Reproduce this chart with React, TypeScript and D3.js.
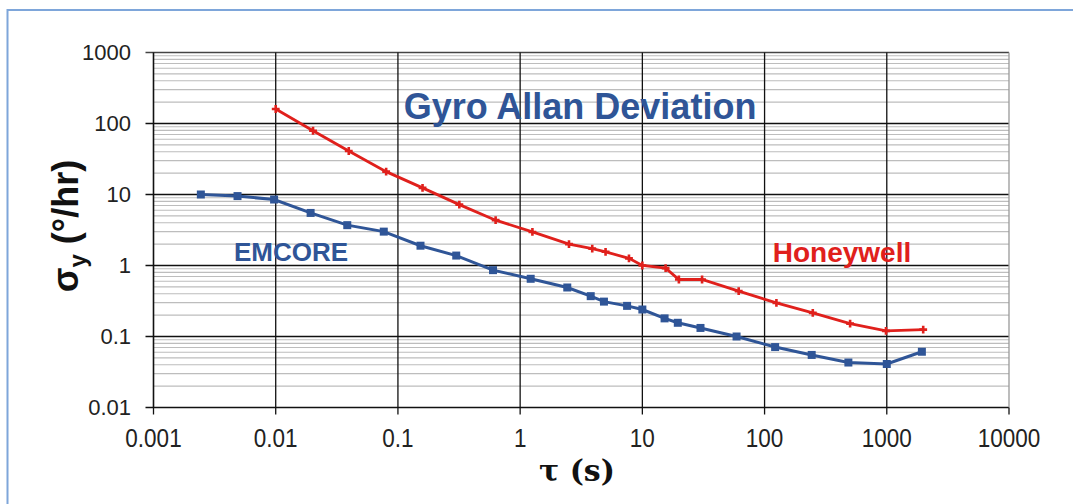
import * as d3 from "d3";

const WIDTH = 1073;
const HEIGHT = 504;

// EMCORE series (tau in s, sigma in deg/hr)
const emcoreTau = [
  0.00244, 0.00487, 0.0097, 0.0193, 0.0385, 0.0766, 0.153, 0.3, 0.6, 1.22, 2.43, 3.78, 4.85, 7.5,
  10, 15.2, 19.5, 29.9, 59, 122, 243, 485, 1000, 1937,
];
const emcoreSigma = [
  10, 9.5, 8.5, 5.5, 3.7, 3.0, 1.9, 1.38, 0.86, 0.65, 0.49, 0.37, 0.31, 0.27, 0.24, 0.18, 0.156,
  0.132, 0.1, 0.071, 0.055, 0.043, 0.041, 0.061,
];

// Honeywell series
const honeyTau = [
  0.01, 0.0202, 0.0396, 0.0801, 0.159, 0.318, 0.63, 1.26, 2.51, 3.89, 5.0, 7.77, 10, 15.5, 19.9,
  30.8, 61.4, 125, 248, 501, 985, 1986,
];
const honeySigma = [
  160, 79, 41, 21, 12.4, 7.2, 4.35, 2.97, 2.0, 1.73, 1.56, 1.26, 1.0, 0.92, 0.635, 0.635, 0.435,
  0.297, 0.215, 0.152, 0.12, 0.125,
];

const xTicks = [0.001, 0.01, 0.1, 1, 10, 100, 1000, 10000];
const xTickLabels = ["0.001", "0.01", "0.1", "1", "10", "100", "1000", "10000"];
const yTicks = [0.01, 0.1, 1, 10, 100, 1000];
const yTickLabels = ["0.01", "0.1", "1", "10", "100", "1000"];

const BLUE = "#2f5597";
const RED = "#e0201c";

export default function App() {
  const x = d3.scaleLog().domain([0.001, 10000]).range([153.5, 1009]);
  const y = d3.scaleLog().domain([0.01, 1000]).range([407.5, 52.5]);

  // minor gridlines 2..9 per decade
  const minor: number[] = [];
  for (let e = -2; e < 3; e++) {
    for (let m = 2; m <= 9; m++) minor.push(m * Math.pow(10, e));
  }

  const line = d3
    .line<[number, number]>()
    .x((d) => x(d[0]))
    .y((d) => y(d[1]));

  const emcore = emcoreTau.map((t, i) => [t, emcoreSigma[i]] as [number, number]);
  const honey = honeyTau.map((t, i) => [t, honeySigma[i]] as [number, number]);

  const square = d3.symbol(d3.symbolSquare, 64)() as string;
  const cross = d3.symbol(d3.symbolCross, 34)() as string;

  const font = "Arial, 'Liberation Sans', sans-serif";

  return (
    <svg
      width={WIDTH}
      height={HEIGHT}
      style={{ position: "absolute", left: 0, top: 0, background: "#fff" }}
    >
      <rect x={7.5} y={10} width={1200} height={600} fill="none" stroke="#7ea6da" strokeWidth={2} />

      {/* minor horizontal grid */}
      {minor.map((v) => (
        <line key={"m" + v} x1={x(0.001)} x2={x(10000)} y1={y(v)} y2={y(v)} stroke="#bdbdbd" strokeWidth={1.2} />
      ))}

      {/* major horizontal grid */}
      {yTicks.map((v, i) => (
        <line
          key={"h" + v}
          x1={x(0.001) - 8}
          x2={x(10000)}
          y1={y(v)}
          y2={y(v)}
          stroke={i === yTicks.length - 1 ? "#444" : "#111"}
          strokeWidth={i === 0 ? 1.6 : 1.3}
        />
      ))}

      {/* vertical grid */}
      {xTicks.map((v, i) => (
        <g key={"v" + v}>
          <line
            x1={x(v)}
            x2={x(v)}
            y1={y(1000)}
            y2={y(0.01)}
            stroke={i === xTicks.length - 1 ? "#999" : "#111"}
            strokeWidth={i === 0 ? 1.6 : 1.3}
          />
          <line x1={x(v)} x2={x(v)} y1={y(0.01)} y2={y(0.01) + 7} stroke="#111" strokeWidth={1.3} />
        </g>
      ))}

      {/* y tick labels */}
      {yTicks.map((v, i) => (
        <text
          key={"yl" + v}
          x={131}
          y={y(v)}
          dy="0.36em"
          textAnchor="end"
          fontFamily={font}
          fontSize={22}
          fill="#222"
        >
          {yTickLabels[i]}
        </text>
      ))}

      {/* x tick labels */}
      {xTicks.map((v, i) => (
        <text
          key={"xl" + v}
          transform={`translate(${x(v)},447) scale(0.9,1)`}
          textAnchor="middle"
          fontFamily={font}
          fontSize={25}
          fill="#222"
        >
          {xTickLabels[i]}
        </text>
      ))}

      {/* series */}
      <path d={line(emcore) ?? ""} fill="none" stroke={BLUE} strokeWidth={3} />
      {emcore.map((d, i) => (
        <path key={"e" + i} d={square} transform={`translate(${x(d[0])},${y(d[1])})`} fill={BLUE} />
      ))}
      <path d={line(honey) ?? ""} fill="none" stroke={RED} strokeWidth={2.8} />
      {honey.map((d, i) => (
        <path key={"hw" + i} d={cross} transform={`translate(${x(d[0])},${y(d[1])})`} fill={RED} />
      ))}

      {/* annotations */}
      <text x={580} y={119} textAnchor="middle" fontFamily={font} fontWeight="bold" fontSize={36} fill={BLUE}>
        Gyro Allan Deviation
      </text>
      <text x={291} y={261} textAnchor="middle" fontFamily={font} fontWeight="bold" fontSize={26} fill={BLUE}>
        EMCORE
      </text>
      <text x={842} y={262} textAnchor="middle" fontFamily={font} fontWeight="bold" fontSize={28} fill={RED}>
        Honeywell
      </text>

      {/* axis titles */}
      <text
        transform="translate(78,226) rotate(-90)"
        textAnchor="middle"
        fontFamily={font}
        fontWeight="bold"
        fontSize={36}
        fill="#111"
      >
        <tspan>σ</tspan>
        <tspan fontSize={24} dy={8}>y</tspan>
        <tspan dy={-8}> (°/hr)</tspan>
      </text>
      <text
        x={577}
        y={481}
        textAnchor="middle"
        fontFamily="'DejaVu Serif', 'Liberation Serif', serif"
        fontWeight="bold"
        fontSize={30}
        fill="#111"
      >
        τ (s)
      </text>
    </svg>
  );
}
